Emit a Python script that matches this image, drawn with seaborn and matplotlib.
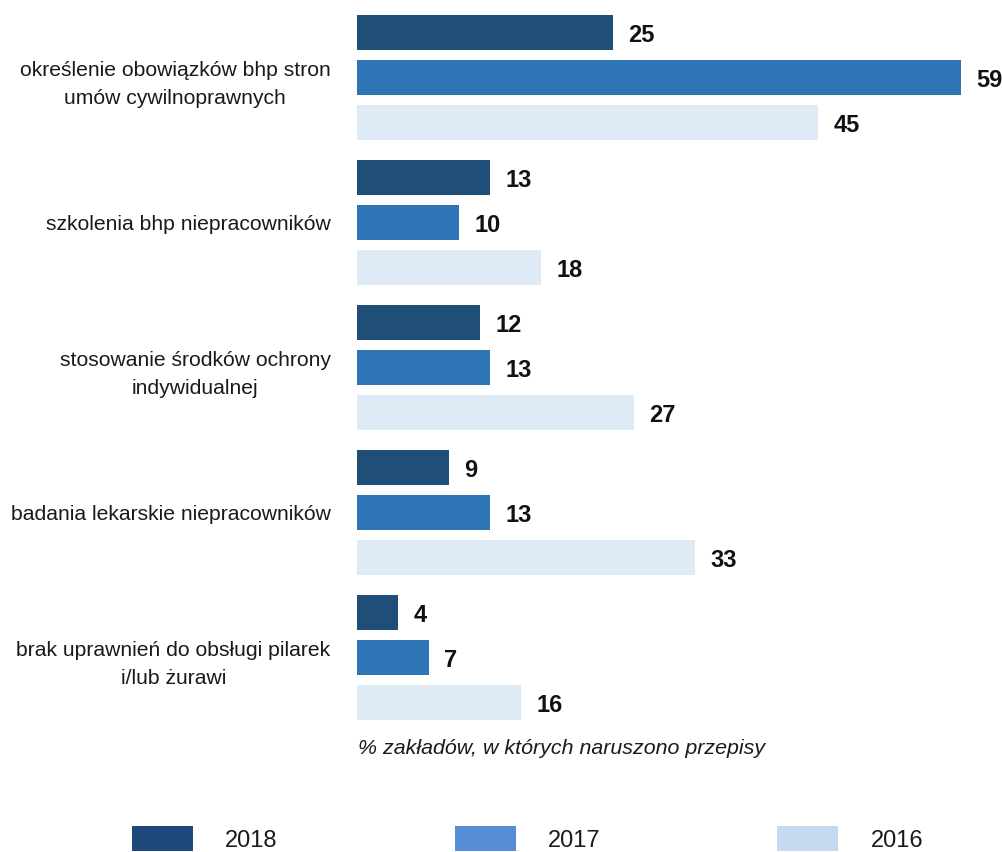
import matplotlib
matplotlib.use("Agg")
import matplotlib.pyplot as plt
from matplotlib.patches import Patch
import seaborn as sns
import pandas as pd

# Share of inspected establishments with violations, by area and year
categories = [
    "określenie obowiązków bhp stron\numów cywilnoprawnych",
    "szkolenia bhp niepracowników",
    "stosowanie środków ochrony\nindywidualnej",
    "badania lekarskie niepracowników",
    "brak uprawnień do obsługi pilarek\ni/lub żurawi",
]
years = ["2018", "2017", "2016"]
values_2018 = [25, 13, 12, 9, 4]
values_2017 = [59, 10, 13, 13, 7]
values_2016 = [45, 18, 27, 33, 16]
axis_label = "% zakładów, w których naruszono przepisy"

bar_colors = ["#1f4e79", "#2e75b6", "#deebf7"]
legend_colors = ["#1f497d", "#558ed5", "#c6d9f1"]

df = pd.DataFrame({
    "kategoria": categories * 3,
    "rok": [y for y in years for _ in categories],
    "wartosc": values_2018 + values_2017 + values_2016,
})

sns.set_theme(style="white")
plt.rcParams["font.family"] = ["Liberation Sans", "DejaVu Sans"]

W, H = 1003, 852
fig = plt.figure(figsize=(W / 100, H / 100), dpi=100)
ax_left, ax_right = 357, 992
ax_top, ax_bottom = 5, 730
ax = fig.add_axes([ax_left / W, 1 - ax_bottom / H,
                   (ax_right - ax_left) / W, (ax_bottom - ax_top) / H])

sns.barplot(data=df, y="kategoria", x="wartosc", hue="rok", hue_order=years,
            order=categories, palette=bar_colors, orient="h",
            width=0.93, gap=0.22, legend=False, ax=ax, saturation=1,
            edgecolor="none")

ax.set_xlim(0, 62)
ax.set_ylim(4.5, -0.5)

for container in ax.containers:
    texts = ax.bar_label(container,
                         labels=[f"{v:g}" for v in container.datavalues],
                         padding=11, fontsize=17, fontweight="bold",
                         color="#111111")
    for t in texts:
        t.xyann = (11, -2)

ax.set_ylabel("")
ax.set_xlabel("")
ax.set_xticks([])
ax.tick_params(axis="y", length=0, pad=19, labelsize=15.2, labelcolor="#1a1a1a")
for lbl in ax.get_yticklabels():
    lbl.set_multialignment("center")
    lbl.set_linespacing(1.6)
for s in ax.spines.values():
    s.set_visible(False)

fig.text(358 / W, 1 - 748 / H, axis_label, fontsize=15.4, style="italic",
         color="#1a1a1a", ha="left", va="center")

handles = [Patch(facecolor=c, edgecolor="none", label=y)
           for c, y in zip(legend_colors, years)]
fig.legend(handles=handles, loc="center left", ncol=3, frameon=False,
           bbox_to_anchor=(132 / W, 1 - 839 / H), fontsize=17,
           handlelength=2.58, handleheight=1.2, handletextpad=1.36,
           columnspacing=7.5, borderpad=0, borderaxespad=0,
           labelcolor="#1a1a1a")

fig.savefig("out.png", dpi=100)
